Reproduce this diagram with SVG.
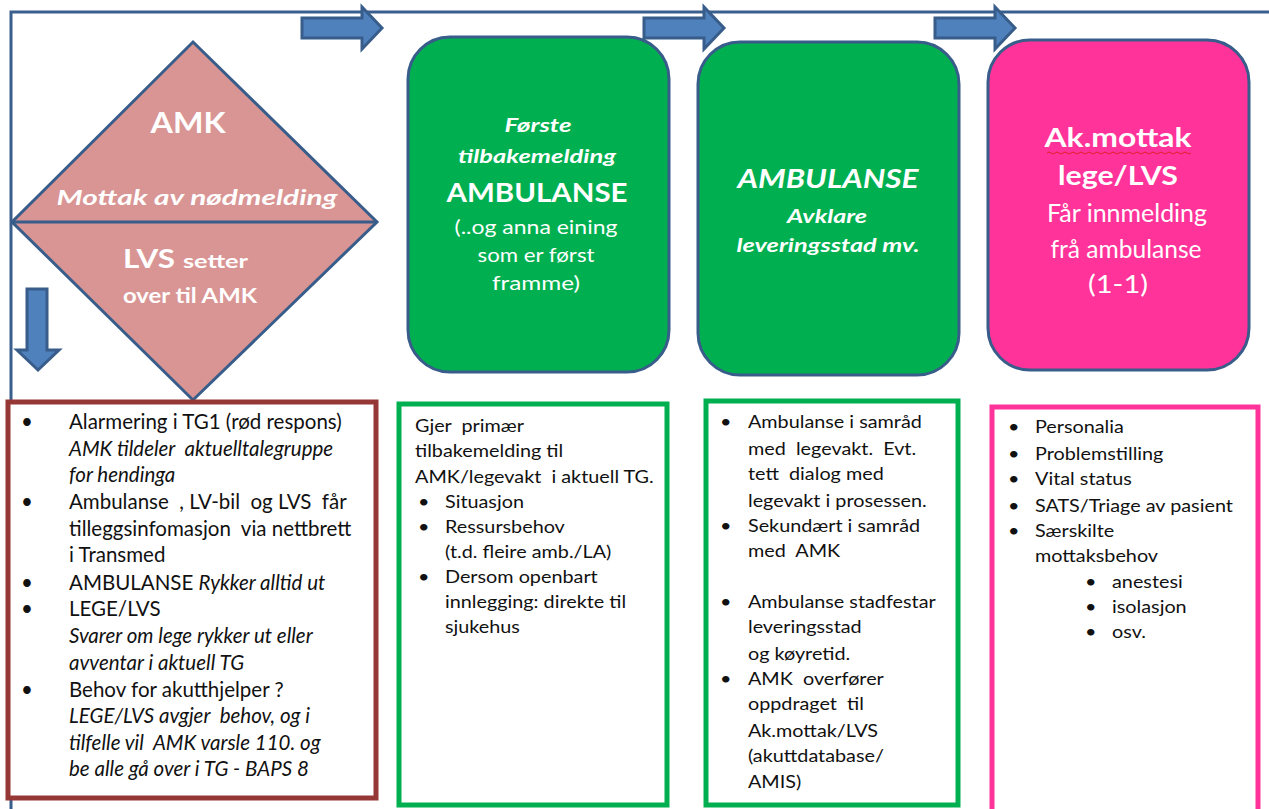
<svg xmlns="http://www.w3.org/2000/svg" width="1269" height="809" viewBox="0 0 1269 809">
<style>
text{font-family:Lato,"Liberation Sans",sans-serif}
.w{fill:#fff;text-anchor:middle}
.b{font-weight:bold}
.i{font-style:italic}
.t text,.t2 text{white-space:pre}
.t{fill:#111;font-size:20.5px}
.t2{fill:#111;font-size:16.5px}
.frame{fill:none;stroke:#3b5f8c;stroke-width:3}
.arr{fill:#4f81bd;stroke:#385d8a;stroke-width:3;stroke-linejoin:miter}
</style>
<rect width="1269" height="809" fill="#fff"/>
<g id="connectors">
<path class="frame" d="M11,809 V12 H1269"/>
<path class="arr" d="M302,18 H362 V7 L382,28 L362,49 V38 H302 Z"/>
<path class="arr" d="M644,18 H704 V7 L724,28 L704,49 V38 H644 Z"/>
<path class="arr" d="M935,18 H995 V7 L1015,28 L995,49 V38 H935 Z"/>
<path class="arr" d="M27,289 H47 V350 H59 L38,370 L17,350 H27 Z"/>
</g>
<g id="amk">
<path d="M193,42 L377,222 L193,400 L12,222 Z" fill="#d99594" stroke="#385d8a" stroke-width="3"/>
<path d="M12,222 H377" stroke="#385d8a" stroke-width="3"/>
<text class="w b" x="188" y="133" font-size="28" textLength="75" lengthAdjust="spacingAndGlyphs">AMK</text>
<text class="w b i" x="197" y="205" font-size="21" textLength="281" lengthAdjust="spacingAndGlyphs">Mottak av nødmelding</text>
<text class="b" fill="#fff" x="123" y="268" font-size="27" textLength="52" lengthAdjust="spacingAndGlyphs">LVS</text>
<text class="b" fill="#fff" x="183" y="268" font-size="19" textLength="65" lengthAdjust="spacingAndGlyphs">setter</text>
<text class="w b" x="190" y="303" font-size="20" textLength="134" lengthAdjust="spacingAndGlyphs">over til AMK</text>
</g>
<g id="tilbakemelding">
<rect x="408" y="37" width="261" height="335" rx="42" fill="#00b050" stroke="#385d8a" stroke-width="3"/>
<text class="w b i" x="538" y="132" font-size="19" textLength="67" lengthAdjust="spacingAndGlyphs">Første</text>
<text class="w b i" x="537" y="163" font-size="19" textLength="158" lengthAdjust="spacingAndGlyphs">tilbakemelding</text>
<text class="w b" x="537" y="202" font-size="26" textLength="181" lengthAdjust="spacingAndGlyphs">AMBULANSE</text>
<text class="w" x="536" y="234" font-size="20" textLength="163" lengthAdjust="spacingAndGlyphs">(..og anna eining</text>
<text class="w" x="536" y="262" font-size="20" textLength="117" lengthAdjust="spacingAndGlyphs">som er først</text>
<text class="w" x="536" y="290" font-size="20" textLength="88" lengthAdjust="spacingAndGlyphs">framme)</text>
</g>
<g id="avklare">
<rect x="698" y="42" width="261" height="333" rx="42" fill="#00b050" stroke="#385d8a" stroke-width="3"/>
<text class="w b i" x="828" y="188" font-size="26" textLength="181" lengthAdjust="spacingAndGlyphs">AMBULANSE</text>
<text class="w b i" x="827" y="223" font-size="19" textLength="80" lengthAdjust="spacingAndGlyphs">Avklare</text>
<text class="w b i" x="828" y="252" font-size="19" textLength="183" lengthAdjust="spacingAndGlyphs">leveringsstad mv.</text>
</g>
<g id="akmottak">
<rect x="988" y="40" width="261" height="330" rx="42" fill="#ff3399" stroke="#385d8a" stroke-width="3"/>
<text class="w b" x="1118" y="147" font-size="26" textLength="147" lengthAdjust="spacingAndGlyphs">Ak.mottak</text>
<path d="M1047,153 q2,-2 4,0 t4,0 t4,0 t4,0 t4,0 t4,0 t4,0 t4,0 t4,0 t4,0 t4,0 t4,0 t4,0 t4,0 t4,0 t4,0 t4,0 t4,0 t4,0 t4,0 t4,0 t4,0 t4,0 t4,0 t4,0 t4,0 t4,0 t4,0 t4,0 t4,0 t4,0 t4,0 t4,0 t4,0 t4,0 t4,0" fill="none" stroke="#e0202a" stroke-width="1"/>
<text class="w b" x="1118" y="185" font-size="26" textLength="120" lengthAdjust="spacingAndGlyphs">lege/LVS</text>
<text class="w" x="1127" y="222" font-size="25" textLength="160" lengthAdjust="spacingAndGlyphs">Får innmelding</text>
<text class="w" x="1126" y="258" font-size="25" textLength="151" lengthAdjust="spacingAndGlyphs">frå ambulanse</text>
<text class="w" x="1118" y="293" font-size="25" textLength="60" lengthAdjust="spacingAndGlyphs">(1-1)</text>
</g>
<g id="amk-detaljar">
<rect x="8" y="402" width="368" height="396" fill="#fff" stroke="#953735" stroke-width="5"/>
<g class="t">
<text x="21" y="429">•</text><text x="69" y="429">Alarmering i TG1 (rød respons)</text>
<text x="69" y="456" font-style="italic">AMK tildeler  aktuelltalegruppe</text>
<text x="69" y="482" font-style="italic">for hendinga</text>
<text x="21" y="509">•</text><text x="69" y="509">Ambulanse  , LV-bil  og LVS  får</text>
<text x="69" y="536">tilleggsinfomasjon  via nettbrett</text>
<text x="69" y="562">i Transmed</text>
<text x="21" y="590">•</text><text x="69" y="590">AMBULANSE <tspan font-style="italic">Rykker alltid ut</tspan></text>
<text x="21" y="616">•</text><text x="69" y="616">LEGE/LVS</text>
<text x="69" y="643" font-style="italic">Svarer om lege rykker ut eller</text>
<text x="69" y="670" font-style="italic">avventar i aktuell TG</text>
<text x="21" y="697">•</text><text x="69" y="697">Behov for akutthjelper ?</text>
<text x="69" y="723" font-style="italic">LEGE/LVS avgjer  behov, og i</text>
<text x="69" y="750" font-style="italic">tilfelle vil  AMK varsle 110. og</text>
<text x="69" y="776" font-style="italic">be alle gå over i TG - BAPS 8</text>
</g>
</g>
<g id="tilbakemelding-detaljar">
<rect x="399" y="404" width="268" height="401" fill="#fff" stroke="#00b050" stroke-width="5"/>
<g class="t2" transform="translate(415,0) scale(1.2,1)">
<text x="0" y="432">Gjer  primær</text>
<text x="0" y="457">tilbakemelding til</text>
<text x="0" y="483">AMK/legevakt  i aktuell TG.</text>
<text x="2.5" y="508">•</text><text x="25" y="508">Situasjon</text>
<text x="2.5" y="533">•</text><text x="25" y="533">Ressursbehov</text>
<text x="25" y="558">(t.d. fleire amb./LA)</text>
<text x="2.5" y="583">•</text><text x="25" y="583">Dersom openbart</text>
<text x="25" y="608">innlegging: direkte til</text>
<text x="25" y="633">sjukehus</text>
</g>
</g>
<g id="avklare-detaljar">
<rect x="706" y="401" width="252" height="404" fill="#fff" stroke="#00b050" stroke-width="5"/>
<g class="t2" transform="translate(720,0) scale(1.2,1)">
<text x="0" y="428">•</text><text x="23.3" y="428">Ambulanse i samråd</text>
<text x="23.3" y="455">med  legevakt.  Evt.</text>
<text x="23.3" y="480">tett  dialog med</text>
<text x="23.3" y="507">legevakt i prosessen.</text>
<text x="0" y="532">•</text><text x="23.3" y="532">Sekundært i samråd</text>
<text x="23.3" y="557">med  AMK</text>
<text x="0" y="608">•</text><text x="23.3" y="608">Ambulanse stadfestar</text>
<text x="23.3" y="633">leveringsstad</text>
<text x="23.3" y="660">og køyretid.</text>
<text x="0" y="685">•</text><text x="23.3" y="685">AMK  overfører</text>
<text x="23.3" y="710">oppdraget  til</text>
<text x="23.3" y="737">Ak.mottak/LVS</text>
<text x="23.3" y="762">(akuttdatabase/</text>
<text x="23.3" y="788">AMIS)</text>
</g>
</g>
<g id="akmottak-detaljar">
<rect x="992" y="407" width="266" height="410" fill="#fff" stroke="#ff3399" stroke-width="5"/>
<g class="t2" transform="translate(1008,0) scale(1.2,1)">
<text x="0" y="433">•</text><text x="22.5" y="433">Personalia</text>
<text x="0" y="460">•</text><text x="22.5" y="460">Problemstilling</text>
<text x="0" y="485">•</text><text x="22.5" y="485">Vital status</text>
<text x="0" y="512">•</text><text x="22.5" y="512">SATS/Triage av pasient</text>
<text x="0" y="537">•</text><text x="22.5" y="537">Særskilte</text>
<text x="22.5" y="562">mottaksbehov</text>
<text x="64.2" y="588">•</text><text x="86.7" y="588">anestesi</text>
<text x="64.2" y="613">•</text><text x="86.7" y="613">isolasjon</text>
<text x="64.2" y="638">•</text><text x="86.7" y="638">osv.</text>
</g>
</g>
</svg>
